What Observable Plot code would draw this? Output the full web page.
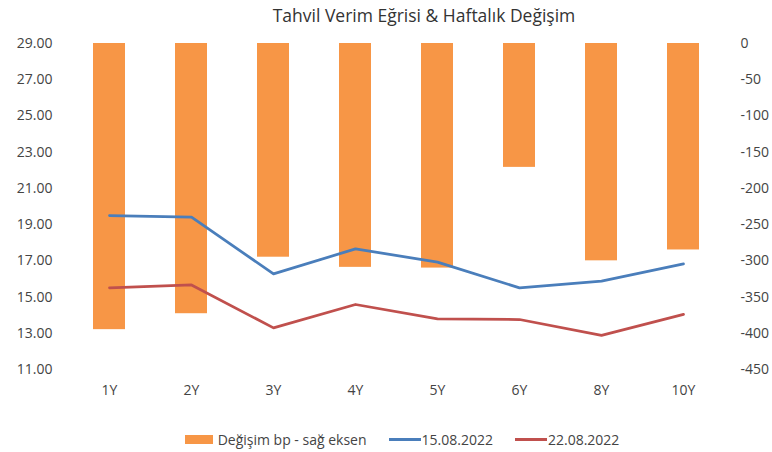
<!DOCTYPE html>
<html>
<head>
<meta charset="utf-8">
<script src="https://cdn.jsdelivr.net/npm/d3@7"></script>
<script src="https://cdn.jsdelivr.net/npm/@observablehq/plot@0.6"></script>
<style>
  body { margin:0; background:#fff; font-family: "Open Sans", "Liberation Sans", sans-serif; }
  #wrap { width:772px; }
  #title { height:30px; line-height:30px; box-sizing:border-box; padding-left:76px; text-align:center; font-size:17.5px; color:#333; }
  #legend { height:38px; display:flex; align-items:center; justify-content:center; box-sizing:border-box; padding-left:32px; font-size:14px; color:#444; }
  .item { display:flex; align-items:center; margin:0 11px; }
  .sw { width:28px; height:9px; background:#F79646; margin-right:5px; }
  .ln { width:32px; height:3px; margin-right:1px; }
</style>
</head>
<body>
<div id="wrap">
  <div id="title">Tahvil Verim Eğrisi &amp; Haftalık Değişim</div>
  <div id="chart"></div>
  <div id="legend">
    <div class="item"><div class="sw"></div><span>Değişim bp - sağ eksen</span></div>
    <div class="item"><div class="ln" style="background:#4A7EBB"></div><span>15.08.2022</span></div>
    <div class="item"><div class="ln" style="background:#C0504D"></div><span>22.08.2022</span></div>
  </div>
</div>
<script>
const categories = ["1Y","2Y","3Y","4Y","5Y","6Y","8Y","10Y"];
const changeBp = [-395,-373,-295,-309,-310,-171,-300,-285];
const yield1508 = [19.50,19.41,16.28,17.66,16.93,15.51,15.88,16.83];
const yield2208 = [15.51,15.67,13.30,14.59,13.80,13.76,12.88,14.04];
const leftTicks = [11,13,15,17,19,21,23,25,27,29];
const rightTicks = [0,-50,-100,-150,-200,-250,-300,-350,-400,-450];

// map right axis (bp) into left axis units: 0 -> 29, -450 -> 11
const toLeft = v => 29 + v * (18 / 450);
const toRight = y => Math.round((y - 29) * 25);

const bars = categories.map((c, i) => ({cat: c, v: changeBp[i]}));
const l1 = categories.map((c, i) => ({cat: c, v: yield1508[i]}));
const l2 = categories.map((c, i) => ({cat: c, v: yield2208[i]}));

const chart = Plot.plot({
  width: 772,
  height: 390,
  marginTop: 13,
  marginBottom: 51,
  marginLeft: 66,
  marginRight: 47,
  style: {fontFamily: '"Open Sans", "Liberation Sans", sans-serif', fontSize: "14px", color: "#444", background: "#fff"},
  x: {domain: categories, paddingInner: 0.61, paddingOuter: 0.305, label: null},
  y: {domain: [11, 29], label: null},
  marks: [
    Plot.axisX({tickSize: 0, tickPadding: 16, label: null}),
    Plot.axisY({anchor: "left", ticks: leftTicks, tickFormat: d => d.toFixed(2), tickSize: 0, tickPadding: 14, label: null}),
    Plot.axisY({anchor: "right", ticks: rightTicks.map(toLeft), tickFormat: d => String(toRight(d)), tickSize: 0, tickPadding: 15, textAnchor: "start", label: null}),
    Plot.barY(bars, {x: "cat", y1: () => toLeft(0), y2: d => toLeft(d.v), fill: "#F79646"}),
    Plot.lineY(l1, {x: "cat", y: "v", stroke: "#4A7EBB", strokeWidth: 2.75, strokeLinecap: "round", strokeLinejoin: "round"}),
    Plot.lineY(l2, {x: "cat", y: "v", stroke: "#C0504D", strokeWidth: 2.75, strokeLinecap: "round", strokeLinejoin: "round"})
  ]
});
document.getElementById("chart").appendChild(chart);
</script>
</body>
</html>
